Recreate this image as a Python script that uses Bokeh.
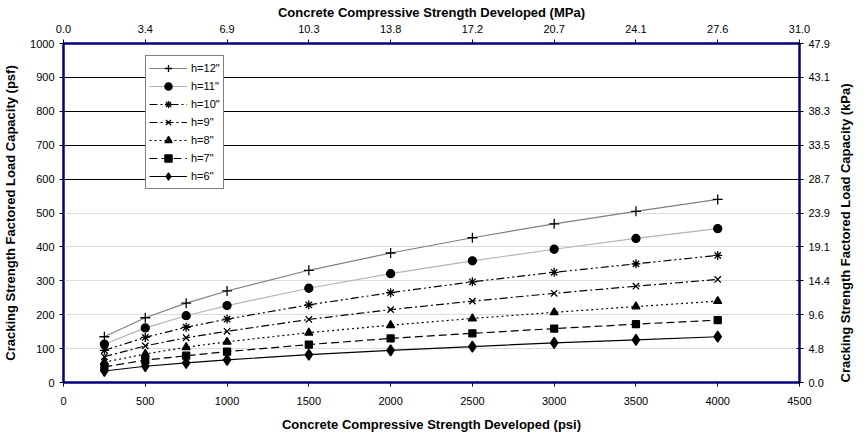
import math
from bokeh.plotting import figure
from bokeh.models import LinearAxis, FixedTicker, Range1d, Grid, Legend, LegendItem
from bokeh.embed import file_html
from bokeh.resources import INLINE

# Concrete strength (psi) at which load capacity was evaluated
psi = [250, 500, 750, 1000, 1500, 2000, 2500, 3000, 3500, 4000]

# Cracking-strength factored load capacity (psf) per slab thickness
h12 = [135, 191, 234, 270, 331, 382, 427, 468, 505, 540]
h11 = [113, 161, 197, 227, 278, 321, 359, 393, 425, 454]
h10 = [95, 133, 163, 187, 229, 265, 297, 325, 350, 375]
h9 = [76, 108, 132, 151, 186, 215, 240, 263, 284, 304]
h8 = [60, 84, 104, 120, 147, 169, 189, 207, 224, 240]
h7 = [46, 66, 79, 91, 112, 130, 145, 159, 172, 184]
h6 = [34, 48, 58, 67, 82, 95, 106, 117, 126, 135]

series_names = ['h=12"', 'h=11"', 'h=10"', 'h=9"', 'h=8"', 'h=7"', 'h=6"']
series_values = [h12, h11, h10, h9, h8, h7, h6]

# Axis ticks and their metric equivalents
psi_ticks = [0, 500, 1000, 1500, 2000, 2500, 3000, 3500, 4000, 4500]
mpa_labels = ["0.0", "3.4", "6.9", "10.3", "13.8", "17.2", "20.7", "24.1", "27.6", "31.0"]
psf_ticks = [0, 100, 200, 300, 400, 500, 600, 700, 800, 900, 1000]
kpa_labels = ["0.0", "4.8", "9.6", "14.4", "19.1", "23.9", "28.7", "33.5", "38.3", "43.1", "47.9"]

FONT = "Liberation Sans"
NAVY = "#000080"

# line colour, dash, marker, marker size
styles = [
    ("#7f7f7f", "solid", "cross", 10),
    ("#b4b4b4", "solid", "circle", 8),
    ("black", "8 3 2 3 2 3", "asterisk", 9),
    ("black", "8 3 2 3", "x", 9),
    ("black", "2 3", "triangle", 8),
    ("black", "8 4", "square", 7),
    ("black", "solid", "diamond", 11),
]

p = figure(width=864, height=434, output_backend="svg", toolbar_location=None,
           x_range=Range1d(0, 4500), y_range=Range1d(0, 1000),
           min_border_left=60, min_border_right=65, min_border_top=43,
           min_border_bottom=50, background_fill_color="white",
           border_fill_color="white")

p.outline_line_color = NAVY
p.outline_line_width = 2

# light grid in the lower half, dark grid in the upper half
p.xgrid.visible = False
p.ygrid.ticker = FixedTicker(ticks=[100, 200, 300, 400, 500])
p.ygrid.grid_line_color = "#dcdcdc"
p.ygrid.grid_line_width = 1
p.add_layout(Grid(dimension=1, ticker=FixedTicker(ticks=[600, 700, 800, 900]),
                  grid_line_color="black", grid_line_width=1))

def style_axis(ax, label, tick_in=0):
    ax.axis_label = label
    ax.axis_label_text_font = FONT
    ax.axis_label_text_font_style = "bold"
    ax.axis_label_text_font_size = "13px"
    ax.axis_label_text_color = "black"
    ax.major_label_text_font = FONT
    ax.major_label_text_font_size = "11px"
    ax.major_label_text_color = "black"
    ax.axis_line_color = NAVY
    ax.axis_line_width = 2
    ax.major_tick_line_color = "black"
    ax.major_tick_out = 4
    ax.major_tick_in = tick_in
    ax.minor_tick_line_color = None

bottom = p.xaxis[0]
bottom.ticker = FixedTicker(ticks=psi_ticks)
style_axis(bottom, "Concrete Compressive Strength Developed (psi)")
bottom.major_label_standoff = 10
bottom.axis_label_standoff = 9

left = p.yaxis[0]
left.ticker = FixedTicker(ticks=psf_ticks)
style_axis(left, "Cracking Strength Factored Load Capacity (psf)")
left.major_label_standoff = 5
left.axis_label_standoff = 9

top = LinearAxis(ticker=FixedTicker(ticks=psi_ticks),
                 major_label_overrides={t: s for t, s in zip(psi_ticks, mpa_labels)})
style_axis(top, "Concrete Compressive Strength Developed (MPa)")
top.major_label_standoff = 7
top.axis_label_standoff = 2
p.add_layout(top, "above")

# right-hand title reads bottom-to-top, like the left one
right = LinearAxis(ticker=FixedTicker(ticks=psf_ticks),
                   major_label_overrides={t: s for t, s in zip(psf_ticks, kpa_labels)})
style_axis(right, "Cracking Strength Factored Load Capacity (kPa)", tick_in=3)
right.major_label_standoff = 5
right.axis_label_standoff = 13
right.axis_label_orientation = math.pi / 2
if "axis_label_align" in right.properties():
    right.axis_label_align = "start"
p.add_layout(right, "right")

items = []
for name, vals, (color, dash, marker, size) in zip(series_names, series_values, styles):
    ln = p.line(psi, vals, line_color=color, line_width=1.2, line_dash=dash)
    mk = p.scatter(psi, vals, marker=marker, size=size, line_color="black",
                   fill_color="black", line_width=1.3)
    items.append(LegendItem(label=name, renderers=[ln, mk]))

legend = Legend(items=items, location=(82, 193), border_line_color="black",
                border_line_width=1, background_fill_color="white",
                background_fill_alpha=1.0, label_text_font=FONT,
                label_text_font_size="11px", label_text_color="black",
                glyph_width=38, glyph_height=18, label_height=18, spacing=0,
                padding=3, margin=0, label_standoff=4)
p.add_layout(legend)

open("out.html", "w").write(file_html(p, INLINE))
